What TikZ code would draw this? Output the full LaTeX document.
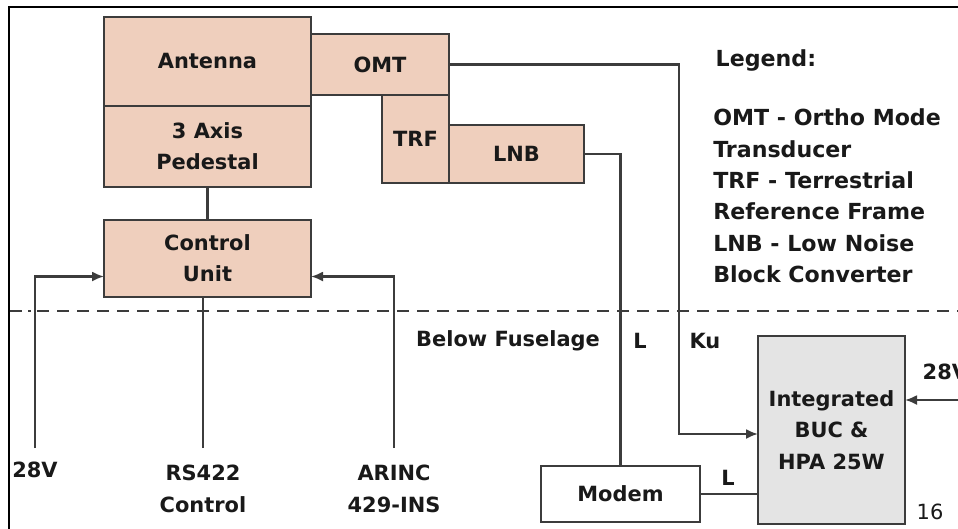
\documentclass[tikz,border=0pt]{standalone}
\usepackage{fontspec}
\setmainfont{DejaVu Sans}
\usepackage{xcolor}
\usetikzlibrary{arrows.meta, calc, positioning}

\definecolor{peach}{HTML}{EFCFBD}
\definecolor{bucgray}{HTML}{E4E4E4}
\definecolor{wire}{HTML}{3C3C3C}

\tikzset{
  unitbox/.style={draw=wire, line width=1.6pt, fill=peach, inner sep=0pt, outer sep=0pt},
  plainbox/.style={unitbox, fill=white},
  greybox/.style={unitbox, fill=bucgray},
  link/.style={draw=wire, line width=1.6pt},
  feed/.style={link, -{Latex[length=9pt,width=7.5pt]}},
}

\begin{document}
\begin{tikzpicture}[x=0.75pt, y=-0.75pt, every node/.style={align=center, text=black!90, font=\bfseries\fontsize{15.7}{23.5}\selectfont}]
\useasboundingbox (0,0) rectangle (958,529);
\fill[white] (0,0) rectangle (958,529);
\draw[line width=0.8pt] (9,529) -- (9,7) -- (958,7);

% antenna side
\node[unitbox, minimum width=155.25pt, minimum height=66.75pt] (ant) at (207.5,61.5) {Antenna};
\node[unitbox, minimum width=155.25pt, minimum height=60.75pt, below=0pt of ant] (ped) {3 Axis\\Pedestal};
\node[unitbox, minimum width=103.5pt, minimum height=45.75pt] (omt) at (380,64.5) {OMT};
\node[unitbox, minimum width=50.25pt, minimum height=66pt, anchor=north east] (trf) at (omt.south east) {TRF};
\node[unitbox, minimum width=101.25pt, minimum height=43.5pt, anchor=south west] (lnb) at (trf.south east) {LNB};
\node[unitbox, minimum width=155.25pt, minimum height=57.75pt, below=24.75pt of ped] (ctrl) {Control\\Unit};

% below fuselage
\node[plainbox, minimum width=119.25pt, minimum height=42pt] (modem) at (620.5,494) {Modem};
\node[greybox, minimum width=110.25pt, minimum height=141pt] (buc) at (831.5,430) {Integrated\\BUC \&\\HPA 25W};

% fuselage line
\draw[wire, line width=1.3pt] (10,311) -- (22,311);
\draw[wire, line width=1.3pt] (28,311) -- (31,311);
\draw[wire, line width=1.3pt, dash pattern=on 9pt off 6pt] (37,311) -- (958,311);

% legend
\node[anchor=west, font=\bfseries\fontsize{16.6}{23.5}\selectfont] (leg) at (711,60) {Legend:};
\node[anchor=west, align=left, inner sep=0pt, font=\bfseries\fontsize{16.6}{23.6}\selectfont] (legtxt) at (713,196) {OMT - Ortho Mode\\Transducer\\TRF - Terrestrial\\Reference Frame\\LNB - Low Noise\\Block Converter};

% labels
\node (below) at (508,341) {Below Fuselage};
\node (lblL) at (640,341) {L};
\node (lblKu) at (705,341) {Ku};
\node (lblL2) at (728,478) {L};
\node (v28a) at (35,470) {28V};
\node (rs) at (203,489) {RS422\\Control};
\node (arinc) at (394,489) {ARINC\\429-INS};
\node[anchor=west] (v28b) at (918,372) {28V};
\node[font=\fontsize{15.7}{18}\selectfont] (pg) at (930,512) {16};

\coordinate (p28) at (35,448);
\coordinate (prs) at (203,448);
\coordinate (par) at (394,448);
\coordinate (kubend) at (679,434);
\coordinate (pbuc) at (958,400);

% connectors
\draw[link] (ped) -- (ctrl);
\draw[feed] (p28) |- ([yshift=-13.5pt]ctrl.west);
\draw[link] (prs) -- (prs |- ctrl.south);
\draw[feed] (par) |- ([yshift=-13.5pt]ctrl.east);
\draw[link] (lnb.east) -| (modem.north);
\draw[feed] (omt.east) -| (kubend) -- (kubend -| buc.west);
\draw[link] (modem.east) -- (modem.east -| buc.west);
\draw[feed] (pbuc) -- (pbuc -| buc.east);
\end{tikzpicture}
\end{document}
